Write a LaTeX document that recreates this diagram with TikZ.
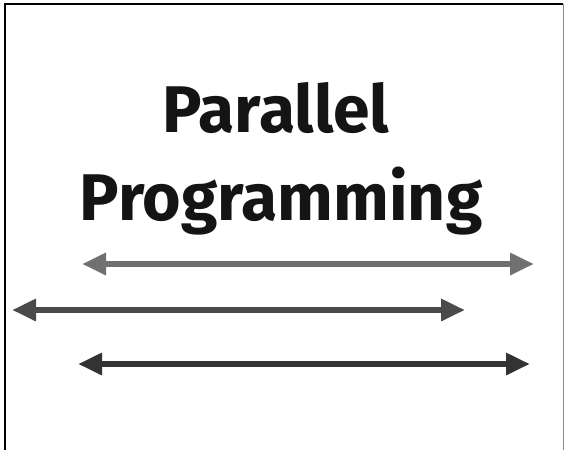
\documentclass[tikz,border=0pt]{standalone}
\usepackage{fontspec}
\setmainfont{Fira Sans}
\usetikzlibrary{arrows.meta}
\definecolor{arrA}{HTML}{707070}
\definecolor{arrB}{HTML}{4A4A4A}
\definecolor{arrC}{HTML}{333333}
\tikzset{
  title/.style={font=\fontsize{66}{70}\selectfont\bfseries, text=black!92, inner sep=0pt, anchor=base},
  dblarrow/.style={line width=6pt, {Triangle[length=24pt,width=21pt]}-{Triangle[length=24pt,width=21pt]}}
}
\begin{document}
\begin{tikzpicture}[x=1pt,y=-1pt]
\useasboundingbox (0,0) rectangle (564,450);
\fill[white] (0,0) rectangle (564,450);
\draw[line width=2.2pt,black] (5,450) -- (5,4) -- (563,4);
\draw[line width=1pt,black!45] (563,4) -- (563,450);
\node[title] (t1) at (276,132) {Parallel};
\node[title] (t2) at (281,220) {Programming};
\coordinate (a1l) at (82,264);
\coordinate (a1r) at (534,264);
\coordinate (a2l) at (12,310);
\coordinate (a2r) at (465,310);
\coordinate (a3l) at (78,364);
\coordinate (a3r) at (530,364);
\draw[dblarrow, arrA] (a1l) -- (a1r);
\draw[dblarrow, arrB] (a2l) -- (a2r);
\draw[dblarrow, arrC] (a3l) -- (a3r);
\end{tikzpicture}
\end{document}
